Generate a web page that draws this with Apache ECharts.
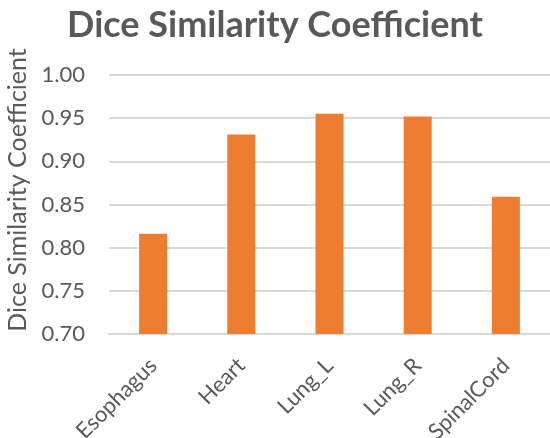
<!DOCTYPE html>
<html>
<head>
<meta charset="utf-8">
<script src="https://cdn.jsdelivr.net/npm/echarts@6/dist/echarts.min.js"></script>
<style>
  html, body { margin: 0; padding: 0; background: #fff; }
  #chart { width: 550px; height: 438px; }
</style>
</head>
<body>
<div id="chart"></div>
<script>
// organs on the x axis
const organs = ['Esophagus', 'Heart', 'Lung_L', 'Lung_R', 'SpinalCord'];
// mean dice per organ
const diceValues = [0.816, 0.931, 0.955, 0.952, 0.859];

const chart = echarts.init(document.getElementById('chart'), null, { renderer: 'canvas' });

chart.setOption({
  backgroundColor: '#fff',
  textStyle: { fontFamily: 'Lato, "Open Sans", sans-serif' },
  title: {
    text: 'Dice Similarity Coefficient',
    left: 'center',
    top: 2,
    textStyle: { fontSize: 36, fontWeight: 'bold', color: '#595959', fontFamily: 'Lato, "Open Sans", sans-serif' }
  },
  // fixed plot box; don't let v6 shrink it to fit the rotated labels
  grid: { left: 109, right: 0, top: 75, bottom: 104, containLabel: false, outerBoundsMode: 'none' },
  xAxis: {
    type: 'category',
    data: organs,
    axisLine: { show: true, lineStyle: { color: '#d9d9d9', width: 2 } },
    axisTick: { show: false },
    axisLabel: { rotate: 45, color: '#595959', fontSize: 22, margin: 28, interval: 0 }
  },
  yAxis: {
    type: 'value',
    min: 0.70,
    max: 1.00,
    interval: 0.05,
    name: 'Dice Similarity Coefficient',
    nameLocation: 'middle',
    nameGap: 74,
    // shift the rotated name a bit upward, like the reference
    nameTextStyle: { color: '#595959', fontSize: 25, padding: [0, 0, 0, 29] },
    axisLine: { show: false },
    axisTick: { show: false },
    axisLabel: { color: '#595959', fontSize: 22, margin: 24, formatter: v => v.toFixed(2) },
    splitLine: { lineStyle: { color: '#d9d9d9', width: 2 } }
  },
  series: [{
    type: 'bar',
    data: diceValues,
    barWidth: 28,
    itemStyle: { color: '#ed7d31' }
  }]
});
</script>
</body>
</html>
